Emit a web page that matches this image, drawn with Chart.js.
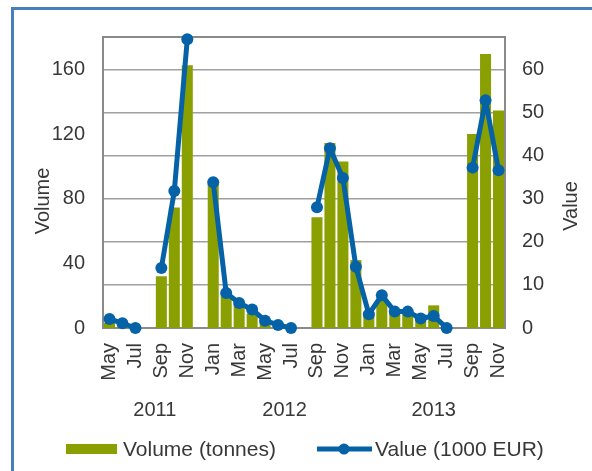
<!DOCTYPE html>
<html>
<head>
<meta charset="utf-8">
<script src="https://cdn.jsdelivr.net/npm/chart.js@4/dist/chart.umd.min.js"></script>
<style>
  html, body { margin: 0; padding: 0; background: #fff; overflow: hidden; }
  #wrap { position: relative; width: 592px; height: 471px; }
  #frame { position: absolute; left: 11px; top: 7px; width: 700px; height: 600px; border: 3px solid #4A7EBB; box-sizing: border-box; }
  canvas { position: absolute; left: 0; top: 0; }
</style>
</head>
<body>
<div id="wrap">
  <div id="frame"></div>
  <canvas id="c" width="592" height="471"></canvas>
</div>
<script>
// ---- data ----
const months = ['May','Jun','Jul','Aug','Sep','Oct','Nov','Dec',
  'Jan','Feb','Mar','Apr','May','Jun','Jul','Aug','Sep','Oct','Nov','Dec',
  'Jan','Feb','Mar','Apr','May','Jun','Jul','Aug','Sep','Oct','Nov'];
const volume = [3.3, 1, 0, null, 32, 74.5, 162.5, null,
  89, 21, 15, 9, 5, 1, 0, null, 68.5, 114.5, 103, 42,
  10, 17, 10, 11, 7.5, 14, 0, null, 120, 169.5, 134.5];
const value = [2.1, 1.1, 0, null, 13.9, 31.8, 67, null,
  33.8, 8.1, 5.8, 4.3, 1.7, 0.7, 0, null, 28, 41.7, 34.8, 14.2,
  3.2, 7.6, 3.8, 3.8, 2.2, 2.8, 0, null, 37.2, 52.8, 36.6];
const yearLabels = ['2011', '2012', '2013'];
const yearStart = [0, 8, 20];
const yearEnd = [7, 19, 30];
const volumeTicks = [0, 40, 80, 120, 160];
const valueTicks = [0, 10, 20, 30, 40, 50, 60];
const seriesNames = ['Volume (tonnes)', 'Value (1000 EUR)'];
const axisTitles = ['Volume', 'Value'];

// ---- styles ----
const FONT = '"Liberation Sans", Arial, sans-serif';
const TXT = '#383838';
const GREEN = '#8A9F00';
const BLUE = '#0562A6';

const extras = {
  id: 'extras',
  beforeDatasetsDraw(chart) {
    const ctx = chart.ctx;
    const a = chart.chartArea;
    ctx.save();
    ctx.strokeStyle = '#8A8A8A';
    ctx.lineWidth = 2;
    ctx.strokeRect(a.left, a.top, a.right - a.left, a.bottom - a.top);
    ctx.restore();
  },
  afterDraw(chart) {
    const ctx = chart.ctx;
    const xs = chart.scales.x;
    ctx.save();
    ctx.fillStyle = TXT;
    // year labels
    ctx.font = '20px ' + FONT;
    ctx.textAlign = 'center';
    ctx.textBaseline = 'middle';
    for (let i = 0; i < yearLabels.length; i++) {
      const x = (xs.getPixelForValue(yearStart[i]) + xs.getPixelForValue(yearEnd[i])) / 2;
      ctx.fillText(yearLabels[i], x, 410);
    }
    // axis titles
    ctx.save();
    ctx.translate(43, 201);
    ctx.rotate(-Math.PI / 2);
    ctx.fillText(axisTitles[0], 0, 0);
    ctx.restore();
    ctx.save();
    ctx.translate(571, 206);
    ctx.rotate(-Math.PI / 2);
    ctx.fillText(axisTitles[1], 0, 0);
    ctx.restore();
    // legend
    const ly = 449;
    ctx.font = '21px ' + FONT;
    ctx.textAlign = 'left';
    ctx.fillStyle = GREEN;
    ctx.fillRect(66, ly - 5, 51, 10);
    ctx.fillStyle = TXT;
    ctx.fillText(seriesNames[0], 123, ly + 1);
    ctx.strokeStyle = BLUE;
    ctx.lineWidth = 5;
    ctx.beginPath();
    ctx.moveTo(317, ly);
    ctx.lineTo(372, ly);
    ctx.stroke();
    ctx.fillStyle = BLUE;
    ctx.beginPath();
    ctx.arc(344, ly, 5.5, 0, Math.PI * 2);
    ctx.fill();
    ctx.fillStyle = TXT;
    ctx.fillText(seriesNames[1], 375, ly + 1);
    ctx.restore();
  }
};

new Chart(document.getElementById('c'), {
  data: {
    labels: months,
    datasets: [
      {
        type: 'line',
        label: seriesNames[1],
        data: value,
        yAxisID: 'y1',
        borderColor: BLUE,
        backgroundColor: BLUE,
        borderWidth: 5,
        borderJoinStyle: 'round',
        borderCapStyle: 'round',
        pointRadius: 6,
        pointBackgroundColor: BLUE,
        pointBorderColor: BLUE,
        pointBorderWidth: 0,
        spanGaps: false,
        tension: 0,
        clip: false,
        order: 0
      },
      {
        type: 'bar',
        label: seriesNames[0],
        data: volume,
        yAxisID: 'y',
        backgroundColor: GREEN,
        borderWidth: 0,
        categoryPercentage: 1,
        barPercentage: 0.85,
        order: 1
      }
    ]
  },
  options: {
    responsive: false,
    animation: false,
    layout: { padding: { top: 37, left: 0, right: 0, bottom: 0 } },
    plugins: { legend: { display: false }, tooltip: { enabled: false } },
    scales: {
      x: {
        type: 'category',
        grid: { display: false, drawTicks: false },
        border: { display: false },
        ticks: {
          autoSkip: false,
          minRotation: 90,
          maxRotation: 90,
          padding: 15,
          color: TXT,
          font: { family: FONT, size: 20 },
          callback: function (v, i) { return i % 2 === 0 ? months[i] : ''; }
        },
        afterFit(s) { s.height = 143; }
      },
      y: {
        position: 'left',
        min: 0, max: 180,
        grid: { display: false, drawTicks: false },
        border: { display: false },
        ticks: { padding: 18, color: TXT, font: { family: FONT, size: 20 } },
        afterBuildTicks(s) { s.ticks = volumeTicks.map(v => ({ value: v })); },
        afterFit(s) { s.width = 103; }
      },
      y1: {
        position: 'right',
        min: 0, max: 67.5,
        grid: { display: true, drawTicks: false, color: '#A0A0A0', lineWidth: 1.5 },
        border: { display: false },
        ticks: { padding: 17, color: TXT, font: { family: FONT, size: 20 } },
        afterBuildTicks(s) { s.ticks = valueTicks.map(v => ({ value: v })); },
        afterFit(s) { s.width = 87; }
      }
    }
  },
  plugins: [extras]
});
</script>
</body>
</html>
